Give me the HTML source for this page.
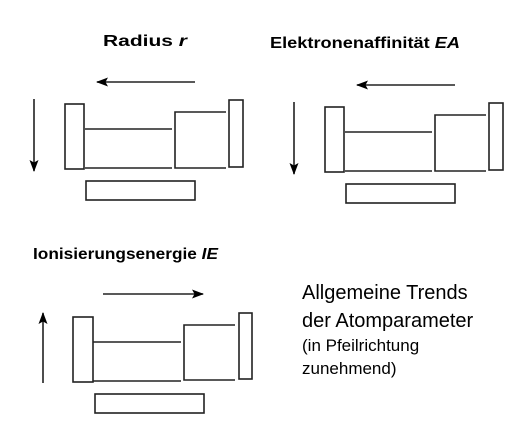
<!DOCTYPE html>
<html><head><style>
body{margin:0;background:#fff;width:510px;height:427px;overflow:hidden}
svg{display:block}
</style></head><body>
<svg width="510" height="427" xmlns="http://www.w3.org/2000/svg">
<defs><marker id="a" markerWidth="12" markerHeight="9" refX="11" refY="4.5" orient="auto" markerUnits="userSpaceOnUse"><path d="M0,0 L12,4.5 L0,9 L2.5,4.5z" fill="#000"/></marker></defs>
<g font-family="Liberation Sans, sans-serif" font-weight="bold" font-size="16" fill="#000">
<text x="103" y="46" textLength="84" lengthAdjust="spacingAndGlyphs">Radius <tspan font-style="italic">r</tspan></text>
<text x="270" y="48" textLength="190" lengthAdjust="spacingAndGlyphs">Elektronenaffinität <tspan font-style="italic">EA</tspan></text>
<text x="33" y="259" textLength="185" lengthAdjust="spacingAndGlyphs">Ionisierungsenergie <tspan font-style="italic">IE</tspan></text>
</g>
<g font-family="Liberation Sans, sans-serif" fill="#000">
<text x="302" y="299" font-size="20">Allgemeine Trends</text>
<text x="302" y="327" font-size="20">der Atomparameter</text>
<text x="302" y="351" font-size="17">(in Pfeilrichtung</text>
<text x="302" y="374" font-size="17">zunehmend)</text>
</g>
<g stroke="#222" stroke-width="1.6" fill="none">
<line x1="195" y1="82" x2="97" y2="82" marker-end="url(#a)"/>
<line x1="34" y1="99" x2="34" y2="171" marker-end="url(#a)"/>
<rect x="65" y="104" width="19" height="65"/>
<line x1="85" y1="129" x2="172" y2="129"/><line x1="85" y1="168" x2="172" y2="168"/>
<path d="M226,112 H175 V168 H226"/>
<rect x="229" y="100" width="14" height="67"/>
<rect x="86" y="181" width="109" height="19"/>
<line x1="455" y1="85" x2="357" y2="85" marker-end="url(#a)"/>
<line x1="294" y1="102" x2="294" y2="174" marker-end="url(#a)"/>
<rect x="325" y="107" width="19" height="65"/>
<line x1="345" y1="132" x2="432" y2="132"/><line x1="345" y1="171" x2="432" y2="171"/>
<path d="M486,115 H435 V171 H486"/>
<rect x="489" y="103" width="14" height="67"/>
<rect x="346" y="184" width="109" height="19"/>
<line x1="103" y1="294" x2="203" y2="294" marker-end="url(#a)"/>
<line x1="43" y1="383" x2="43" y2="313" marker-end="url(#a)"/>
<rect x="73" y="317" width="20" height="65"/>
<line x1="93" y1="342" x2="181" y2="342"/><line x1="93" y1="381" x2="181" y2="381"/>
<path d="M235,325 H184 V380 H235"/>
<rect x="239" y="313" width="13" height="66"/>
<rect x="95" y="394" width="109" height="19"/>
</g>
</svg>
</body></html>
